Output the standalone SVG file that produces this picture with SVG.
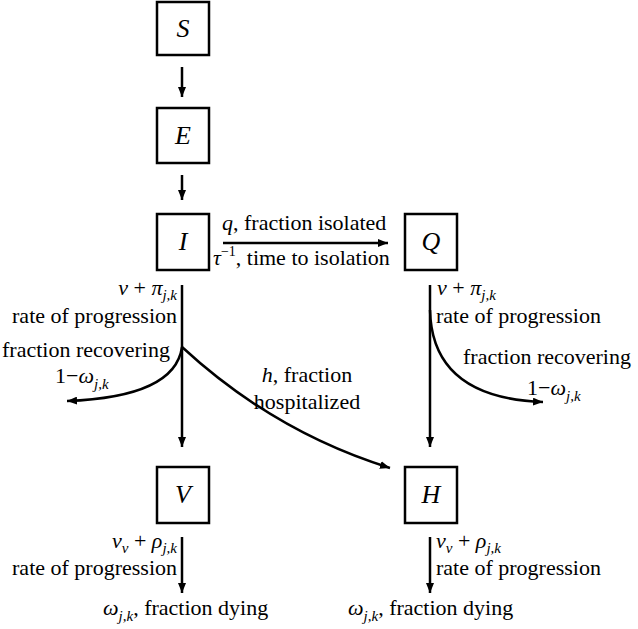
<svg xmlns="http://www.w3.org/2000/svg" width="638" height="629" viewBox="0 0 638 629">
<defs>
<marker id="ah" viewBox="0 0 10 8" refX="10" refY="4" markerWidth="10" markerHeight="8" markerUnits="userSpaceOnUse" orient="auto">
<path d="M0,0 L10,4 L0,8 Z" fill="#000"/>
</marker>
<style>
.box{fill:#fff;stroke:#000;stroke-width:2.5}
.lbl{font-family:"Liberation Serif","Times New Roman","DejaVu Serif",serif;font-size:22px;fill:#000}
.nm{font-family:"Liberation Serif","Times New Roman","DejaVu Serif",serif;font-size:26px;font-style:italic;fill:#000}
.it{font-style:italic}
.sub{font-size:15px;font-style:italic}
.ln{fill:none;stroke:#000;stroke-width:2.5}
.ar{fill:none;stroke:#000;stroke-width:2.5;marker-end:url(#ah)}
</style>
</defs>
<rect width="638" height="629" fill="#fff"/>
<g id="connectors">
<line class="ar" x1="182" y1="67" x2="182" y2="97"/>
<line class="ar" x1="182" y1="175" x2="182" y2="200"/>
<line class="ar" x1="223" y1="243" x2="388" y2="243"/>
<line class="ar" x1="182" y1="285" x2="182" y2="447"/>
<path class="ar" d="M182,347 Q175,397 67,401"/>
<path class="ar" d="M182,347 Q274,432 390,468"/>
<line class="ar" x1="430" y1="285" x2="430" y2="447"/>
<path class="ar" d="M430,310 Q432,398 543,402"/>
<line class="ar" x1="182" y1="537" x2="182" y2="593"/>
<line class="ar" x1="430" y1="537" x2="430" y2="593"/>
</g>
<g id="S"><rect class="box" x="157" y="2" width="52" height="53"/><text class="nm" x="183" y="37" text-anchor="middle">S</text></g>
<g id="E"><rect class="box" x="157" y="108" width="52" height="55"/><text class="nm" x="183" y="144" text-anchor="middle">E</text></g>
<g id="I"><rect class="box" x="157" y="214" width="52" height="56"/><text class="nm" x="183" y="250" text-anchor="middle">I</text></g>
<g id="Q"><rect class="box" x="405" y="214" width="52" height="56"/><text class="nm" x="431" y="250" text-anchor="middle">Q</text></g>
<g id="V"><rect class="box" x="157" y="467" width="52" height="56"/><text class="nm" x="183" y="503" text-anchor="middle">V</text></g>
<g id="H"><rect class="box" x="405" y="467" width="52" height="56"/><text class="nm" x="431" y="503" text-anchor="middle">H</text></g>
<g id="labels">
<text class="lbl" x="222" y="230"><tspan class="it">q</tspan>, fraction isolated</text>
<text class="lbl" x="213" y="265"><tspan class="it">τ</tspan><tspan font-size="14" dy="-9">−1</tspan><tspan dy="9">, time to isolation</tspan></text>
<text class="lbl" x="177" y="295" text-anchor="end"><tspan class="it">ν</tspan> + <tspan class="it">π</tspan><tspan class="sub" dy="5">j,k</tspan></text>
<text class="lbl" x="177" y="323" text-anchor="end">rate of progression</text>
<text class="lbl" x="2" y="357" font-size="21">fraction recovering</text>
<text class="lbl" x="55" y="383">1−<tspan class="it">ω</tspan><tspan class="sub" dy="6">j,k</tspan></text>
<text class="lbl" x="307" y="382" text-anchor="middle"><tspan class="it">h</tspan>, fraction</text>
<text class="lbl" x="307" y="409" text-anchor="middle">hospitalized</text>
<text class="lbl" x="437" y="295"><tspan class="it">ν</tspan> + <tspan class="it">π</tspan><tspan class="sub" dy="5">j,k</tspan></text>
<text class="lbl" x="436" y="323">rate of progression</text>
<text class="lbl" x="463" y="364">fraction recovering</text>
<text class="lbl" x="527" y="395">1−<tspan class="it">ω</tspan><tspan class="sub" dy="6">j,k</tspan></text>
<text class="lbl" x="177" y="548" text-anchor="end"><tspan class="it">ν</tspan><tspan class="sub" dy="5">ν</tspan><tspan dy="-5"> + </tspan><tspan class="it">ρ</tspan><tspan class="sub" dy="5">j,k</tspan></text>
<text class="lbl" x="177" y="575" text-anchor="end">rate of progression</text>
<text class="lbl" x="103" y="615"><tspan class="it">ω</tspan><tspan class="sub" dy="6">j,k</tspan><tspan dy="-6">, fraction dying</tspan></text>
<text class="lbl" x="436" y="548"><tspan class="it">ν</tspan><tspan class="sub" dy="5">ν</tspan><tspan dy="-5"> + </tspan><tspan class="it">ρ</tspan><tspan class="sub" dy="5">j,k</tspan></text>
<text class="lbl" x="436" y="575">rate of progression</text>
<text class="lbl" x="348" y="615"><tspan class="it">ω</tspan><tspan class="sub" dy="6">j,k</tspan><tspan dy="-6">, fraction dying</tspan></text>
</g>
</svg>
